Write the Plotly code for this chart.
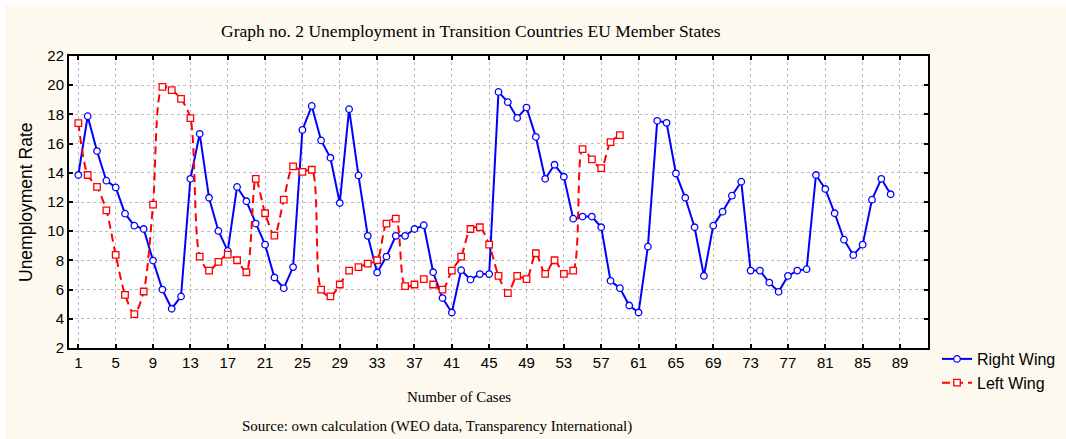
import plotly.graph_objects as go

# ---- data ----
right_wing = [13.85, 17.88, 15.49, 13.46, 13.0, 11.2, 10.38, 10.15, 7.99, 6.0,
              4.69, 5.53, 13.59, 16.67, 12.29, 10.02, 8.65, 13.03, 12.05, 10.52,
              9.08, 6.83, 6.1, 7.54, 16.94, 18.58, 16.22, 15.03, 11.93, 18.36,
              13.82, 9.68, 7.17, 8.26, 9.68, 9.68, 10.15, 10.41, 7.19, 5.42,
              4.43, 7.33, 6.69, 7.06, 7.06, 19.54, 18.84, 17.76, 18.47, 16.46,
              13.59, 14.55, 13.73, 10.86, 11.0, 11.0, 10.27, 6.6, 6.1, 4.91,
              4.43, 8.94, 17.56, 17.42, 13.96, 12.29, 10.27, 6.94, 10.38, 11.34,
              12.43, 13.39, 7.3, 7.3, 6.48, 5.85, 6.94, 7.3, 7.4, 13.85,
              12.89, 11.23, 9.42, 8.36, 9.08, 12.16, 13.59, 12.53]
left_wing = [17.4, 13.85, 13.03, 11.43, 8.38, 5.64, 4.32, 5.87, 11.82, 19.88,
             19.66, 19.06, 17.74, 8.26, 7.3, 7.9, 8.4, 8.01, 7.19, 13.59,
             11.23, 9.7, 12.16, 14.44, 14.07, 14.21, 6.0, 5.53, 6.35, 7.3,
             7.54, 7.78, 8.01, 10.52, 10.86, 6.24, 6.35, 6.72, 6.35, 6.0,
             7.3, 8.26, 10.15, 10.27, 9.08, 6.94, 5.76, 6.94, 6.72, 8.49,
             7.08, 8.01, 7.08, 7.3, 15.62, 14.92, 14.32, 16.1, 16.58]
right_cases = list(range(1, len(right_wing) + 1))
left_cases = list(range(1, len(left_wing) + 1))
x_ticks = list(range(1, 90, 4))
y_ticks = list(range(2, 23, 2))

title_text = "Graph no. 2 Unemployment in Transition Countries EU Member States"
x_title = "Number of Cases"
y_title = "Unemployment Rate"
source_text = "Source: own calculation (WEO data, Transparency International)"

W, H = 1066, 439
L, R, T, B = 69, 138, 56, 91
pw, ph = W - L - R, H - T - B
cream = "#FDF9EE"


def px(xp):
    return (xp - L) / pw


def py(yp):
    return (H - B - yp) / ph


fig = go.Figure()
fig.add_trace(go.Scatter(
    x=right_cases, y=right_wing, name="Right Wing", mode="lines+markers",
    line=dict(color="#0000FF", width=2),
    marker=dict(symbol="circle", size=6.5, color="white",
                line=dict(color="#0000FF", width=1.3)),
))
fig.add_trace(go.Scatter(
    x=left_cases, y=left_wing, name="Left Wing", mode="lines+markers",
    line=dict(color="#FF0000", width=2, dash="8px,5px", shape="spline", smoothing=0.8),
    marker=dict(symbol="square", size=6.5, color="white",
                line=dict(color="#FF0000", width=1.3)),
))

axis_common = dict(
    showline=True, linecolor="black", linewidth=2, mirror="ticks",
    ticks="inside", ticklen=4, tickwidth=2, tickcolor="black",
    showgrid=True, gridcolor="#BDBDBD", griddash="dot", gridwidth=1,
    zeroline=False, automargin=False,
    tickfont=dict(family="Liberation Sans, Arial", size=15, color="black"),
)

fig.update_xaxes(range=[0, 92], tickmode="array", tickvals=x_ticks,
                 ticktext=[str(v) for v in x_ticks], **axis_common)
fig.update_yaxes(range=[2, 22], tickmode="array", tickvals=y_ticks,
                 ticktext=[str(v) for v in y_ticks], **axis_common)

serif = "Liberation Serif, Times New Roman"
fig.update_layout(
    width=W, height=H,
    margin=dict(l=L, r=R, t=T, b=B, pad=0, autoexpand=False),
    paper_bgcolor=cream, plot_bgcolor="white",
    showlegend=True,
    legend=dict(x=px(937), y=py(342), xanchor="left", yanchor="top",
                bgcolor="rgba(0,0,0,0)",
                font=dict(family="Liberation Sans, Arial", size=16, color="black"),
                itemwidth=30, tracegroupgap=0),
    annotations=[
        dict(text=title_text, x=px(471), y=py(31), xref="paper", yref="paper",
             showarrow=False, font=dict(family=serif, size=17.5, color="black"),
             xanchor="center", yanchor="middle"),
        dict(text=x_title, x=px(459), y=py(397), xref="paper", yref="paper",
             showarrow=False, font=dict(family=serif, size=15, color="black"),
             xanchor="center", yanchor="middle"),
        dict(text=source_text, x=px(437), y=py(426), xref="paper", yref="paper",
             showarrow=False, font=dict(family=serif, size=15, color="black"),
             xanchor="center", yanchor="middle"),
        dict(text=y_title, x=px(26), y=py(202), xref="paper", yref="paper",
             showarrow=False, textangle=-90,
             font=dict(family="Liberation Sans, Arial", size=17.5, color="black"),
             xanchor="center", yanchor="middle"),
    ],
    shapes=[
        dict(type="rect", xref="paper", yref="paper", x0=px(-5), x1=px(W + 5),
             y0=py(0), y1=py(5), fillcolor="white", line=dict(width=0), layer="below"),
        dict(type="rect", xref="paper", yref="paper", x0=px(-5), x1=px(5),
             y0=py(-5), y1=py(H + 5), fillcolor="white", line=dict(width=0), layer="below"),
    ],
)

fig.write_html("out.html", config={"displayModeBar": False},
               post_script="document.body.style.margin='0';document.body.style.overflow='hidden';")
